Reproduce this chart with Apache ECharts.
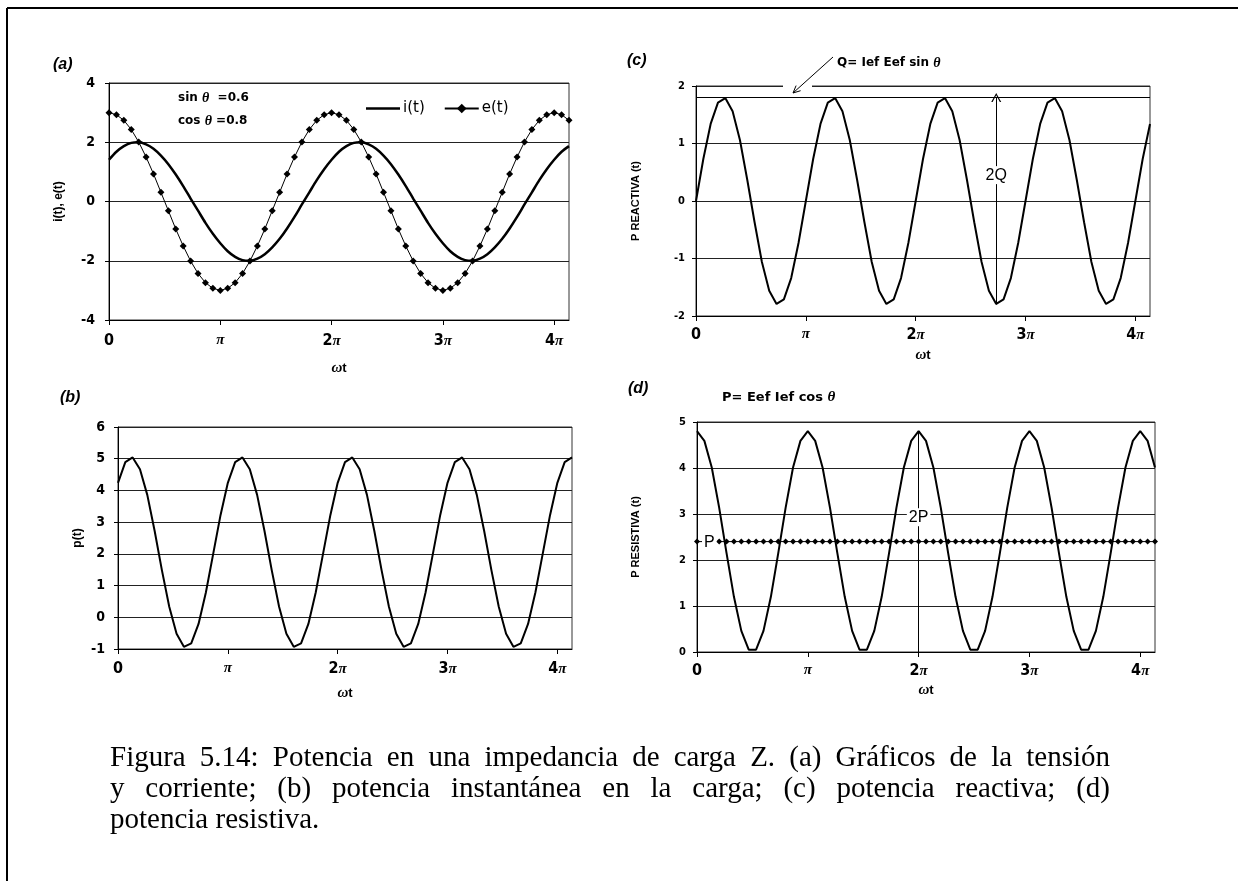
<!DOCTYPE html>
<html><head><meta charset="utf-8">
<script src="https://cdn.jsdelivr.net/npm/echarts@6/dist/echarts.min.js"></script>
<style>
html,body{margin:0;padding:0;background:#fff;}
#chart{position:absolute;left:0;top:0;width:1238px;height:881px;}
#cap{position:absolute;left:110px;top:741px;width:1000px;font-family:'Liberation Serif','Times New Roman',serif;font-size:29px;line-height:31px;color:#000;}
#cap .j{text-align:justify;text-align-last:justify;white-space:nowrap;}
</style></head>
<body>
<div id="chart"></div>
<div id="cap">
<div class="j">Figura 5.14: Potencia en una impedancia de carga Z. (a) Gráficos de la tensión</div>
<div class="j">y corriente; (b) potencia instantánea en la carga; (c) potencia reactiva; (d)</div>
<div>potencia resistiva.</div>
</div>
<script>
// ---- data (angle ωt in degrees) ----
const wtDeg = [0,12,24,36,48,60,72,84,96,108,120,132,144,156,168,180,192,204,216,228,240,252,264,276,288,300,312,324,336,348,360,372,384,396,408,420,432,444,456,468,480,492,504,516,528,540,552,564,576,588,600,612,624,636,648,660,672,684,696,708,720,732,744];
const iT = [1.41,1.68,1.87,1.98,2.00,1.93,1.78,1.55,1.26,0.91,0.52,0.10,-0.31,-0.72,-1.09,
-1.41,-1.68,-1.87,-1.98,-2.00,-1.93,-1.78,-1.55,-1.26,-0.91,-0.52,-0.10,0.31,0.72,1.09,
1.41,1.68,1.87,1.98,2.00,1.93,1.78,1.55,1.26,0.91,0.52,0.10,-0.31,-0.72,-1.09,
-1.41,-1.68,-1.87,-1.98,-2.00,-1.93,-1.78,-1.55,-1.26,-0.91,-0.52,-0.10,0.31,0.72,1.09,
1.41,1.68,1.87];
const eT = [3,2.93,2.74,2.43,2.01,1.5,0.93,0.31,-0.31,-0.93,-1.5,-2.01,-2.43,-2.74,-2.93,-3,
-2.93,-2.74,-2.43,-2.01,-1.5,-0.93,-0.31,0.31,0.93,1.5,2.01,2.43,2.74,2.93,3,
2.93,2.74,2.43,2.01,1.5,0.93,0.31,-0.31,-0.93,-1.5,-2.01,-2.43,-2.74,-2.93,-3,
-2.93,-2.74,-2.43,-2.01,-1.5,-0.93,-0.31,0.31,0.93,1.5,2.01,2.43,2.74,2.93,3,
2.93,2.74];
const pT = [4.24,4.89,5.04,4.67,3.86,2.73,1.48,0.33,-0.52,-0.93,-0.82,-0.21,0.78,2.00,3.22,
4.24,4.89,5.04,4.67,3.86,2.73,1.48,0.33,-0.52,-0.93,-0.82,-0.21,0.78,2.00,3.22,
4.24,4.89,5.04,4.67,3.86,2.73,1.48,0.33,-0.52,-0.93,-0.82,-0.21,0.78,2.00,3.22,
4.24,4.89,5.04,4.67,3.86,2.73,1.48,0.33,-0.52,-0.93,-0.82,-0.21,0.78,2.00,3.22,
4.24,4.89,5.04];
const qT = [0,0.73,1.34,1.71,1.79,1.56,1.06,0.37,-0.37,-1.06,-1.56,-1.79,-1.71,-1.34,-0.73,
0,0.73,1.34,1.71,1.79,1.56,1.06,0.37,-0.37,-1.06,-1.56,-1.79,-1.71,-1.34,-0.73,
0,0.73,1.34,1.71,1.79,1.56,1.06,0.37,-0.37,-1.06,-1.56,-1.79,-1.71,-1.34,-0.73,
0,0.73,1.34,1.71,1.79,1.56,1.06,0.37,-0.37,-1.06,-1.56,-1.79,-1.71,-1.34,-0.73,
0,0.73,1.34];
const rT = [4.8,4.59,4.01,3.14,2.15,1.2,0.46,0.05,0.05,0.46,1.2,2.15,3.14,4.01,4.59,
4.8,4.59,4.01,3.14,2.15,1.2,0.46,0.05,0.05,0.46,1.2,2.15,3.14,4.01,4.59,
4.8,4.59,4.01,3.14,2.15,1.2,0.46,0.05,0.05,0.46,1.2,2.15,3.14,4.01,4.59,
4.8,4.59,4.01,3.14,2.15,1.2,0.46,0.05,0.05,0.46,1.2,2.15,3.14,4.01,4.59,
4.8,4.59,4.01];
const pAvg = [2.4,2.4,2.4,2.4,2.4,2.4,2.4,2.4,2.4,2.4,2.4,2.4,2.4,2.4,2.4,
2.4,2.4,2.4,2.4,2.4,2.4,2.4,2.4,2.4,2.4,2.4,2.4,2.4,2.4,2.4,
2.4,2.4,2.4,2.4,2.4,2.4,2.4,2.4,2.4,2.4,2.4,2.4,2.4,2.4,2.4,
2.4,2.4,2.4,2.4,2.4,2.4,2.4,2.4,2.4,2.4,2.4,2.4,2.4,2.4,2.4,
2.4,2.4,2.4];
const xTickDeg = [0,180,360,540,720];
const xTickLabels = ['0','π','2π','3π','4π'];
const qLevel = 1.8;            // Q = Ief Eef sin θ
const arrow2Q = [492, -1.8, 1.8];
const label2Q = [492, 0.45];
const line2P = [360, 0, 4.8];
const label2P = [360, 2.93];
const labelP = [20, 2.37];

// ---- styling ----
const NARROW = "'Liberation Sans Narrow','DejaVu Sans Condensed','Liberation Sans',Arial,sans-serif";
const SANS = "'Liberation Sans',Arial,sans-serif";
const WIDE = "'DejaVu Sans','Liberation Sans',Arial,sans-serif";
const SERIF = "'Liberation Serif','Times New Roman',serif";
const pair = arr => wtDeg.map((x, k) => [x, arr[k]]);

function piLabel(v) {
  const s = xTickLabels[xTickDeg.indexOf(v)];
  if (s === undefined) return '';
  return s.split('').map(c => c === 'π' ? '{p|π}' : '{n|' + c + '}').join('');
}
function xAx(gi, margin, nameGap) {
  return {
    type: 'value', gridIndex: gi, min: 0, max: 744, interval: 180,
    axisLine: {show: true, onZero: false, lineStyle: {color: '#000', width: 1}},
    axisTick: {show: true, length: 5, customValues: xTickDeg, lineStyle: {color: '#000'}},
    axisLabel: {customValues: xTickDeg, margin: margin, formatter: piLabel, color: '#000',
      rich: {n: {fontFamily: NARROW, fontWeight: 'bold', fontSize: 16, color: '#000'},
             p: {fontFamily: SERIF, fontWeight: 'bold', fontStyle: 'italic', fontSize: 15, color: '#000'}}},
    splitLine: {show: false},
    name: '{w|ω}{t|t}', nameLocation: 'middle', nameGap: nameGap,
    nameTextStyle: {rich: {w: {fontFamily: SERIF, fontWeight: 'bold', fontStyle: 'italic', fontSize: 15, color: '#000'},
                           t: {fontFamily: SANS, fontWeight: 'bold', fontSize: 13, color: '#000'}}}
  };
}
function yAx(gi, min, max, interval, name, fs, margin, nameGap, nameFs) {
  return {
    type: 'value', gridIndex: gi, min: min, max: max, interval: interval,
    axisLine: {show: true, onZero: false, lineStyle: {color: '#000', width: 1}},
    axisTick: {show: true, length: 4, lineStyle: {color: '#000'}},
    axisLabel: {margin: margin, color: '#000', fontFamily: NARROW, fontWeight: 'bold', fontSize: fs},
    splitLine: {show: true, lineStyle: {color: '#222', width: 1}},
    name: name, nameLocation: 'middle', nameRotate: 90, nameGap: nameGap,
    nameTextStyle: {fontFamily: SANS, fontWeight: 'bold', fontSize: nameFs, color: '#000'}
  };
}
const gridBase = {show: true, borderColor: '#333', borderWidth: 1, backgroundColor: 'transparent'};
const lbl = (txt, fs) => ({show: true, position: 'inside', formatter: txt, color: '#000', opacity: 1,
  fontFamily: SANS, fontSize: fs, backgroundColor: '#fff', padding: [1, 2]});
const openArrow = 'path://M0,10 L5,0 L10,10 L8.6,10 L5,2.6 L1.4,10 Z';
const thinLineIcon = 'path://M0,0 L34,0 L34,2.5 L0,2.5 Z';
const richAnno = (fs) => ({
  b: {fontFamily: WIDE, fontWeight: 'bold', fontSize: fs, fill: '#000'},
  t: {fontFamily: SERIF, fontWeight: 'bold', fontStyle: 'italic', fontSize: fs + 2, fill: '#000'}
});

const option = {
  animation: false,
  backgroundColor: '#fff',
  grid: [
    Object.assign({left: 109, top: 83, width: 460, height: 237}, gridBase),
    Object.assign({left: 118, top: 427, width: 454, height: 222}, gridBase),
    Object.assign({left: 696, top: 86, width: 454, height: 230}, gridBase),
    Object.assign({left: 697, top: 422, width: 458, height: 230}, gridBase)
  ],
  xAxis: [xAx(0, 13, 41), xAx(1, 12, 37), xAx(2, 11, 32), xAx(3, 11, 31)],
  yAxis: [
    yAx(0, -4, 4, 2, 'i(t), e(t)', 14, 14, 44, 12),
    yAx(1, -1, 6, 1, 'p(t)', 14, 13, 34, 12),
    yAx(2, -2, 2, 1, 'P REACTIVA (t)', 11, 11, 55, 11),
    yAx(3, 0, 5, 1, 'P RESISTIVA (t)', 11, 11, 56, 11)
  ],
  legend: {
    left: 361, top: 96, itemWidth: 34, itemHeight: 12, itemGap: 19,
    data: [{name: 'i(t)', icon: thinLineIcon}, {name: 'e(t)'}],
    textStyle: {fontFamily: WIDE, fontSize: 15, color: '#000', padding: [0, 0, 0, -2]}
  },
  series: [
    {name: 'i(t)', type: 'line', xAxisIndex: 0, yAxisIndex: 0, data: pair(iT), symbol: 'none', smooth: 0.3,
     lineStyle: {color: '#000', width: 2.5}, itemStyle: {color: '#000'}},
    {name: 'e(t)', type: 'line', xAxisIndex: 0, yAxisIndex: 0, data: pair(eT), symbol: 'diamond', symbolSize: 7,
     lineStyle: {color: '#000', width: 1}, itemStyle: {color: '#000'}},
    {name: 'p(t)', type: 'line', xAxisIndex: 1, yAxisIndex: 1, data: pair(pT), symbol: 'none',
     lineStyle: {color: '#000', width: 2}},
    {name: 'Q(t)', type: 'line', xAxisIndex: 2, yAxisIndex: 2, data: pair(qT), symbol: 'none',
     lineStyle: {color: '#000', width: 2},
     markLine: {silent: true, symbol: ['none', 'none'], label: {show: false},
       lineStyle: {color: '#000', width: 1, type: 'solid'},
       data: [
         {yAxis: qLevel},
         [{coord: [arrow2Q[0], arrow2Q[1]]}, {coord: [arrow2Q[0], arrow2Q[2]], symbol: openArrow, symbolSize: [10, 9]}]
       ]}},
    {name: 'Pr(t)', type: 'line', xAxisIndex: 3, yAxisIndex: 3, data: pair(rT), symbol: 'none',
     lineStyle: {color: '#000', width: 2},
     markLine: {silent: true, symbol: ['none', 'none'], label: {show: false},
       lineStyle: {color: '#000', width: 1, type: 'solid'},
       data: [[{coord: [line2P[0], line2P[1]]}, {coord: [line2P[0], line2P[2]]}]]}},
    {name: 'P', type: 'line', xAxisIndex: 3, yAxisIndex: 3, data: pair(pAvg), symbol: 'diamond', symbolSize: 6,
     lineStyle: {color: '#000', width: 1}, itemStyle: {color: '#000'}},
    {type: 'scatter', xAxisIndex: 2, yAxisIndex: 2, data: [label2Q], symbolSize: 0, z: 6, label: lbl('2Q', 16)},
    {type: 'scatter', xAxisIndex: 3, yAxisIndex: 3, data: [label2P], symbolSize: 0, z: 6, label: lbl('2P', 16)},
    {type: 'scatter', xAxisIndex: 3, yAxisIndex: 3, data: [labelP], symbolSize: 0, z: 6, label: lbl('P', 16)}
  ],
  graphic: [
    {type: 'line', shape: {x1: 7, y1: 8, x2: 1238, y2: 8}, style: {stroke: '#000', lineWidth: 2}},
    {type: 'line', shape: {x1: 7, y1: 8, x2: 7, y2: 881}, style: {stroke: '#000', lineWidth: 2}},
    {type: 'text', left: 53, top: 57, style: {text: '(a)', fontFamily: SANS, fontWeight: 'bold', fontStyle: 'italic', fontSize: 16, fill: '#000'}},
    {type: 'text', left: 60, top: 390, style: {text: '(b)', fontFamily: SANS, fontWeight: 'bold', fontStyle: 'italic', fontSize: 16, fill: '#000'}},
    {type: 'text', left: 627, top: 53, style: {text: '(c)', fontFamily: SANS, fontWeight: 'bold', fontStyle: 'italic', fontSize: 16, fill: '#000'}},
    {type: 'text', left: 628, top: 381, style: {text: '(d)', fontFamily: SANS, fontWeight: 'bold', fontStyle: 'italic', fontSize: 16, fill: '#000'}},
    {type: 'text', left: 178, top: 91, style: {text: '{b|sin }{t|θ}{b|  =0.6}', rich: richAnno(12)}},
    {type: 'text', left: 178, top: 114, style: {text: '{b|cos }{t|θ}{b| =0.8}', rich: richAnno(12)}},
    {type: 'text', left: 837, top: 56, style: {text: '{b|Q= Ief Eef sin }{t|θ}', rich: richAnno(12)}},
    {type: 'text', left: 722, top: 390, style: {text: '{b|P= Eef Ief cos }{t|θ}', rich: richAnno(13)}},
    {type: 'rect', z: 50, shape: {x: 783, y: 83, width: 29, height: 5}, style: {fill: '#fff'}},
    {type: 'line', z: 51, shape: {x1: 833, y1: 57, x2: 793, y2: 93}, style: {stroke: '#000', lineWidth: 1}},
    {type: 'polyline', z: 51, shape: {points: [[800.6, 90.7], [793, 93], [796.1, 85.6]]}, style: {stroke: '#000', lineWidth: 1, fill: null}}
  ]
};
const chart = echarts.init(document.getElementById('chart'), null, {renderer: 'canvas'});
chart.setOption(option);
</script>
</body></html>
